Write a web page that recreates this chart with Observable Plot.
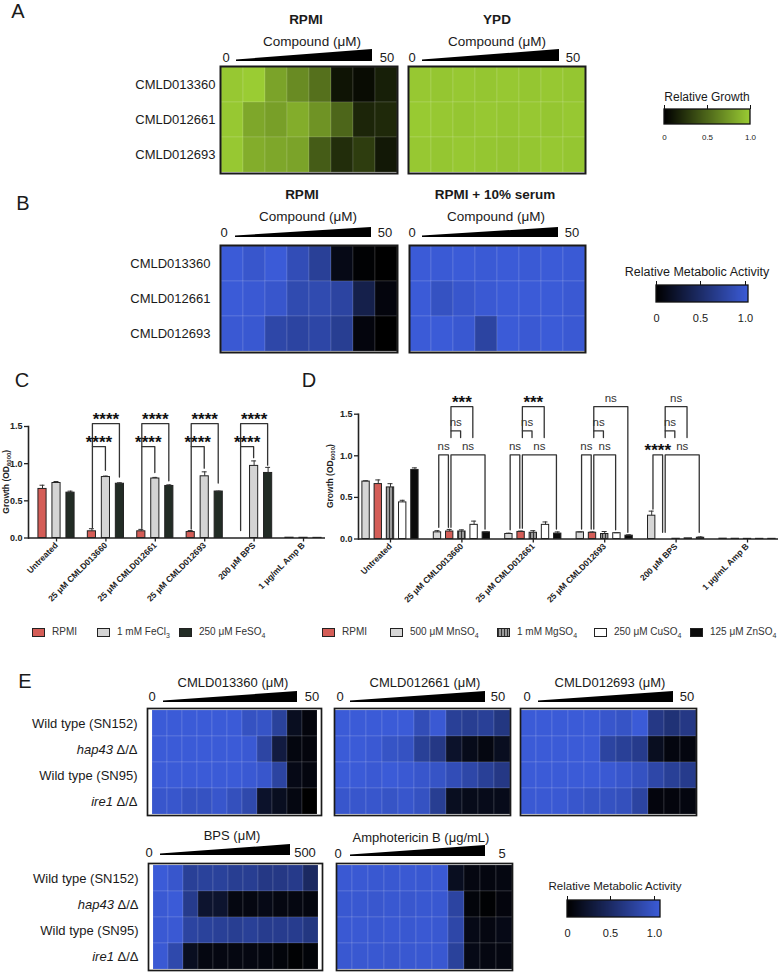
<!DOCTYPE html>
<html><head><meta charset="utf-8">
<script src="https://cdn.jsdelivr.net/npm/d3@7"></script>
<script src="https://cdn.jsdelivr.net/npm/@observablehq/plot@0.6"></script>
<style>
html,body{margin:0;padding:0;background:#fff;}
#fig{position:relative;width:780px;height:975px;overflow:hidden;font-family:"Liberation Sans",Arial,Helvetica,sans-serif;color:#1a1a1a;}
#fig .t{position:absolute;transform:translate(-50%,-50%);white-space:nowrap;line-height:1;}
#fig .letter{font-size:20px;}
#fig .title{font-size:13.5px;font-weight:bold;}
#fig .sub{font-size:13.5px;}
#fig .num{font-size:13px;}
#fig .etitle{font-size:13px;}
#fig .ltitle{font-size:12px;}
#fig .wedge{position:absolute;background:#000;clip-path:polygon(0 calc(100% - 1.5px),100% 0,100% 100%,0 100%);}
#fig .lg{position:absolute;display:flex;align-items:center;gap:7px;font-size:10px;color:#333;white-space:nowrap;transform:translateY(-50%);line-height:1;}
#fig .sw{width:11px;height:7px;border:1.5px solid #222;}
#fig sub{font-size:7px;vertical-align:-3px;line-height:0;}
#fig svg{display:block;overflow:visible;}
</style></head>
<body><div id="fig"></div>
<script>
// ---------------- DATA ----------------
const compoundsAB = ["CMLD013360", "CMLD012661", "CMLD012693"];
const growthRPMI = [
  [0.98, 1.00, 0.80, 0.68, 0.55, 0.10, 0.06, 0.15],
  [0.98, 0.82, 0.78, 0.85, 0.72, 0.50, 0.18, 0.20],
  [0.98, 0.85, 0.82, 0.80, 0.45, 0.22, 0.30, 0.12]
];
const growthYPD = [
  [0.98, 0.97, 0.98, 0.97, 0.98, 0.97, 0.98, 0.97],
  [0.99, 0.98, 0.97, 0.98, 0.97, 0.98, 0.97, 0.98],
  [0.98, 0.97, 0.98, 0.97, 0.96, 0.97, 0.98, 0.97]
];
const metabRPMI = [
  [1.00, 0.95, 1.00, 0.85, 0.70, 0.10, 0.02, 0.00],
  [1.00, 0.98, 0.95, 0.82, 0.82, 0.75, 0.35, 0.06],
  [0.98, 0.97, 0.78, 0.75, 0.77, 0.68, 0.06, 0.00]
];
const metabSerum = [
  [1.00, 0.99, 1.00, 0.99, 1.00, 0.99, 1.00, 0.99],
  [1.00, 0.90, 0.95, 0.98, 1.00, 1.00, 1.00, 0.98],
  [1.00, 1.00, 0.97, 0.75, 1.00, 0.98, 1.00, 0.98]
];
const strainsE = ["Wild type (SN152)", "hap43 Δ/Δ", "Wild type (SN95)", "ire1 Δ/Δ"];
const metabE013360 = [
  [1.00, 1.00, 1.00, 1.00, 1.00, 1.00, 0.90, 0.92, 0.72, 0.15, 0.06],
  [1.00, 1.00, 1.00, 1.00, 1.00, 1.00, 0.98, 0.76, 0.30, 0.07, 0.06],
  [1.00, 1.00, 1.00, 1.00, 1.00, 1.00, 0.98, 0.95, 0.75, 0.10, 0.07],
  [0.95, 0.95, 0.90, 0.90, 0.95, 0.88, 0.80, 0.20, 0.15, 0.08, 0.00]
];
const metabE012661 = [
  [1.00, 1.00, 1.00, 1.00, 1.00, 0.85, 0.98, 0.70, 0.68, 0.70, 0.60],
  [1.00, 1.00, 0.98, 0.92, 0.90, 0.70, 0.62, 0.20, 0.12, 0.08, 0.15],
  [1.00, 1.00, 0.98, 1.00, 0.98, 0.95, 0.92, 0.85, 0.78, 0.70, 0.62],
  [0.95, 0.95, 0.95, 0.92, 0.95, 0.90, 0.68, 0.15, 0.12, 0.12, 0.12]
];
const metabE012693 = [
  [1.00, 1.00, 1.00, 1.00, 1.00, 0.95, 0.92, 1.00, 0.62, 0.55, 0.62],
  [1.00, 1.00, 1.00, 1.00, 1.00, 0.75, 0.70, 0.65, 0.15, 0.07, 0.07],
  [1.00, 1.00, 1.00, 1.00, 1.00, 0.98, 0.95, 0.90, 0.78, 0.70, 0.65],
  [0.98, 0.98, 0.98, 0.95, 0.92, 0.90, 0.88, 0.75, 0.06, 0.06, 0.07]
];
const metabEBPS = [
  [1.00, 0.95, 0.70, 0.72, 0.72, 0.68, 0.68, 0.62, 0.62, 0.64, 0.45],
  [0.98, 1.00, 0.65, 0.22, 0.22, 0.08, 0.08, 0.10, 0.08, 0.08, 0.07],
  [0.98, 0.98, 0.75, 0.72, 0.70, 0.68, 0.70, 0.66, 0.66, 0.66, 0.60],
  [0.98, 0.80, 0.15, 0.08, 0.08, 0.08, 0.08, 0.07, 0.05, 0.02, 0.04]
];
const metabEAmpB = [
  [0.98, 0.98, 0.97, 0.97, 0.98, 0.97, 0.98, 0.15, 0.08, 0.07, 0.08],
  [0.97, 0.97, 0.96, 0.97, 0.96, 0.97, 0.97, 0.75, 0.05, 0.02, 0.06],
  [0.98, 0.98, 0.97, 0.98, 0.97, 0.98, 0.97, 0.78, 0.10, 0.08, 0.10],
  [0.97, 0.97, 0.97, 0.96, 0.97, 0.97, 0.97, 0.72, 0.10, 0.08, 0.08]
];
const colorTicks = [0, 0.5, 1];

const treatments = ["Untreated", "25 μM CMLD013660", "25 μM CMLD012661", "25 μM CMLD012693", "200 μM BPS", "1 μg/mL Amp B"];
const ironSeries = ["RPMI", "1 mM FeCl3", "250 μM FeSO4"];
const ironMeans = [
  [0.66, 0.09, 0.09, 0.08, 0.00, 0.004],
  [0.74, 0.82, 0.80, 0.83, 0.97, 0.003],
  [0.61, 0.73, 0.70, 0.625, 0.875, 0.002]
];
const ironErrors = [
  [0.05, 0.035, 0.026, 0.02, 0, 0],
  [0.02, 0.013, 0.015, 0.06, 0.067, 0],
  [0.02, 0.013, 0.015, 0.005, 0.075, 0]
];
// [treatment, fromSeries, toSeries, bracket top, left leg end, right leg end, label]
const ironBrackets = [
  [1, 0, 1, 1.23, 0.14, 0.91, "****"], [1, 0, 2, 1.54, 1.23, 0.82, "****"],
  [2, 0, 1, 1.23, 0.13, 0.88, "****"], [2, 0, 2, 1.54, 1.23, 0.77, "****"],
  [3, 0, 1, 1.23, 0.12, 0.94, "****"], [3, 0, 2, 1.54, 1.23, 0.74, "****"],
  [4, 0, 1, 1.23, 0.10, 1.08, "****"], [4, 0, 2, 1.54, 1.23, 0.98, "****"]
];
const metalSeries = ["500 μM MnSO4", "RPMI", "1 mM MgSO4", "250 μM CuSO4", "125 μM ZnSO4"];
const metalLegendOrder = ["RPMI", "500 μM MnSO4", "1 mM MgSO4", "250 μM CuSO4", "125 μM ZnSO4"];
const metalMeans = [
  [0.69, 0.08, 0.06, 0.08, 0.28, 0.004],
  [0.66, 0.09, 0.085, 0.075, 0.00, 0.003],
  [0.62, 0.09, 0.075, 0.06, 0.003, 0.002],
  [0.44, 0.17, 0.17, 0.07, 0.008, 0.002],
  [0.83, 0.08, 0.065, 0.04, 0.015, 0.002]
];
const metalErrors = [
  [0.01, 0.02, 0.01, 0.005, 0.055, 0],
  [0.05, 0.025, 0.01, 0.01, 0, 0],
  [0.045, 0.02, 0.025, 0.03, 0, 0],
  [0.025, 0.045, 0.035, 0.005, 0, 0],
  [0.025, 0.005, 0.02, 0.01, 0.01, 0]
];
const metalBrackets = [
  [1, 0, 1, 1.01, 0.14, 0.14, "ns"], [1, 1, 4, 1.01, 0.14, 0.12, "ns"], [1, 1, 2, 1.30, 1.22, 1.22, "ns"], [1, 1, 3, 1.59, 1.30, 1.22, "***"],
  [2, 0, 1, 1.01, 0.11, 0.13, "ns"], [2, 1, 4, 1.01, 0.13, 0.12, "ns"], [2, 1, 2, 1.30, 1.22, 1.22, "ns"], [2, 1, 3, 1.59, 1.30, 1.22, "***"],
  [3, 0, 1, 1.01, 0.12, 0.12, "ns"], [3, 1, 3, 1.01, 0.12, 0.11, "ns"], [3, 1, 2, 1.30, 1.22, 1.22, "ns"], [3, 1, 4, 1.59, 1.30, 0.08, "ns"],
  [4, 0, 1, 1.01, 0.36, 0.08, "****"], [4, 1, 4, 1.01, 0.08, 0.08, "ns"], [4, 1, 2, 1.30, 1.22, 1.22, "ns"], [4, 1, 3, 1.59, 1.30, 1.22, "ns"]
];

// ---------------- STYLES ----------------
const FONT = '"Liberation Sans", Arial, Helvetica, sans-serif';
const GREEN = ["#000000", "#9acc33"];
const BLUE = ["#000000", "#3b5bd7"];
const seriesFill = {
  "RPMI": "#d45d57", "1 mM FeCl3": "#d4d4d4", "250 μM FeSO4": "#222c25",
  "500 μM MnSO4": "#d6d6d6", "1 mM MgSO4": "url(#mgstripe)", "250 μM CuSO4": "#ffffff", "125 μM ZnSO4": "#0b0b0b"
};
const swatchCSS = {"1 mM MgSO4": "repeating-linear-gradient(90deg,#333 0 1px,#9a9a9a 1px 3px)"};

// ---------------- HELPERS ----------------
const fig = d3.select("#fig");
function place(node, left, top, w) {
  const div = fig.append("div").style("position", "absolute").style("left", left + "px").style("top", top + "px");
  if (w) div.style("width", w + "px");
  div.node().appendChild(node);
  return div;
}
function text(str, cx, cy, cls) {
  fig.append("div").attr("class", "t " + cls).style("left", cx + "px").style("top", cy + "px").text(str);
}
function wedge(x0, x1, y0, y1) {
  fig.append("div").attr("class", "wedge").style("left", x0 + "px").style("top", y0 + "px")
    .style("width", (x1 - x0) + "px").style("height", (y1 - y0) + "px");
}
const chem = s => s.replace(/(\D)(\d)$/, "$1<sub>$2</sub>");

function heatmap(values, rows, range, o) {
  const m = 2, ml = o.labels ? 150 : m;
  const cells = values.flatMap((r, i) => r.map((v, j) => ({row: rows[i], col: j, v})));
  const svg = Plot.plot({
    width: o.w + ml + m, height: o.h + 2 * m,
    marginLeft: ml, marginRight: m, marginTop: m, marginBottom: m,
    x: {type: "band", domain: d3.range(values[0].length), padding: 0, axis: null},
    y: {type: "band", domain: rows, padding: 0, axis: null, label: null},
    color: {type: "linear", domain: [0, 1], range, interpolate: "rgb", clamp: true},
    style: {fontFamily: FONT, color: "#1a1a1a", background: "transparent", overflow: "visible"},
    marks: [
      Plot.cell(cells, {x: "col", y: "row", fill: "v", stroke: "#ffffff", strokeOpacity: 0.16, strokeWidth: 0.8}),
      Plot.frame({stroke: "#1a1a1a", strokeWidth: o.frame || 2}),
      o.labels ? Plot.axisY({tickSize: 0, tickPadding: o.pad, fontSize: 13, label: null}) : null
    ]
  });
  d3.select(svg).selectAll("text").each(function() {
    const mm = this.textContent.match(/^(hap43|ire1)( Δ\/Δ)$/);
    if (mm) {
      const t = d3.select(this); t.text("");
      t.append("tspan").attr("font-style", "italic").text(mm[1]);
      t.append("tspan").text(mm[2]);
    }
  });
  place(svg, o.left - ml, o.top - m, o.w + ml + m);
}

function ramp(range, dmax, x0, x1, y0, y1, fs, tickSize) {
  const ml = 12, mr = 12, mt = 6, mb = 26;
  const rh = y1 - y0;
  const svg = Plot.legend({
    color: {type: "linear", domain: [0, dmax], range, interpolate: "rgb"},
    label: null, width: x1 - x0 + ml + mr, height: rh + mt + mb,
    marginLeft: ml, marginRight: mr, marginTop: mt, marginBottom: mb,
    ticks: colorTicks, tickFormat: d => d === 0 ? "0" : d.toFixed(1), tickSize
  });
  svg.style.background = "transparent";
  svg.style.fontSize = fs + "px";
  svg.style.fontFamily = FONT;
  svg.style.color = "#1a1a1a";
  const img = svg.querySelector("image");
  if (img) {
    d3.select(svg).append("rect")
      .attr("x", img.getAttribute("x")).attr("y", img.getAttribute("y"))
      .attr("width", img.getAttribute("width")).attr("height", img.getAttribute("height"))
      .attr("fill", "none").attr("stroke", "#111").attr("stroke-width", 1.3);
  }
  d3.select(svg).selectAll(".tick line").attr("y1", -rh - 4).attr("y2", -rh).attr("stroke", "#111");
  place(svg, x0 - ml, y0 - mt, x1 - x0 + ml + mr);
}

function barChart(c) {
  const n = c.series.length;
  const xPos = (g, s) => g + (s - (n - 1) / 2) * c.step;
  const bars = c.groups.flatMap((name, g) => c.series.map((sn, s) => ({g, s, x: xPos(g, s), v: c.means[s][g], e: c.errors[s][g]})));
  const errs = bars.filter(d => d.e > 0);
  const segs = c.brackets.flatMap((b, k) => {
    const xl = xPos(b[0], b[1]) + c.inset, xr = xPos(b[0], b[2]) - c.inset;
    return [{k, x: xl, y: b[4]}, {k, x: xl, y: b[3]}, {k, x: xr, y: b[3]}, {k, x: xr, y: b[5]}];
  });
  const mid = b => (xPos(b[0], b[1]) + xPos(b[0], b[2])) / 2;
  const stars = c.brackets.filter(b => b[6] !== "ns");
  const ns = c.brackets.filter(b => b[6] === "ns");
  const svg = Plot.plot({
    width: c.width, height: c.height,
    marginLeft: c.mLeft, marginRight: c.mRight, marginTop: c.mTop, marginBottom: c.mBottom,
    x: {domain: c.xDomain}, y: {domain: [0, 1.5]}, color: {type: "identity"},
    style: {fontFamily: FONT, color: "#222", background: "transparent", overflow: "visible"},
    marks: [
      Plot.rectY(bars, {x1: d => d.x - c.bw / 2, x2: d => d.x + c.bw / 2, y1: 0, y2: "v", fill: d => seriesFill[c.series[d.s]], stroke: "#222", strokeWidth: 1}),
      Plot.ruleX(errs, {x: "x", y1: "v", y2: d => d.v + d.e, stroke: "#333", strokeWidth: 1}),
      Plot.ruleY(errs, {y: d => d.v + d.e, x1: d => d.x - c.cap, x2: d => d.x + c.cap, stroke: "#333", strokeWidth: 1}),
      Plot.line(segs, {x: "x", y: "y", z: "k", stroke: "#333", strokeWidth: 1.3}),
      Plot.text(stars, {x: mid, y: b => b[3], text: b => b[6], lineAnchor: "bottom", dy: 1, fontSize: 17, fontWeight: "bold", fill: "#111"}),
      Plot.text(ns, {x: mid, y: b => b[3], text: b => b[6], lineAnchor: "bottom", dy: -5, fontSize: 11.5, fill: "#333"}),
      Plot.ruleY([0], {stroke: "#222", strokeWidth: 1.6}),
      Plot.frame({anchor: "left", stroke: "#222", strokeWidth: 1.6}),
      Plot.axisY({ticks: [0, 0.5, 1, 1.5], tickFormat: d3.format(".1f"), tickSize: 4, tickPadding: 2, fontSize: 9, fontWeight: "bold", label: null, strokeWidth: 1.3}),
      Plot.axisX({ticks: d3.range(c.groups.length), tickFormat: i => c.groups[i], tickRotate: -45, tickSize: 4, tickPadding: 2, fontSize: 8.5, fontWeight: "bold", label: null, strokeWidth: 1.3})
    ]
  });
  const sy = svg.scale("y");
  const t = d3.select(svg).append("text")
    .attr("transform", `translate(${c.yLabelX},${sy.apply(0.75)}) rotate(-90)`)
    .attr("text-anchor", "middle").attr("font-weight", "bold").attr("font-size", 8.5).attr("fill", "#222");
  t.append("tspan").text("Growth (OD");
  t.append("tspan").attr("font-size", 6).attr("dy", 2).text("6000");
  t.append("tspan").attr("dy", -2).text(")");
  if (c.pattern) {
    const p = d3.select(svg).insert("defs", ":first-child").append("pattern")
      .attr("id", "mgstripe").attr("width", 3).attr("height", 4).attr("patternUnits", "userSpaceOnUse");
    p.append("rect").attr("width", 3).attr("height", 4).attr("fill", "#9a9a9a");
    p.append("rect").attr("width", 1).attr("height", 4).attr("fill", "#333");
  }
  place(svg, c.left, c.top, c.width);
}

function barLegend(names, lefts, cy) {
  names.forEach((nm, i) => {
    const d = fig.append("div").attr("class", "lg").style("left", lefts[i] + "px").style("top", cy + "px");
    d.append("div").attr("class", "sw").style("background", swatchCSS[nm] || seriesFill[nm]);
    d.append("span").html(chem(nm));
  });
}

// ---------------- PANEL A ----------------
text("A", 18, 10.5, "letter");
text("RPMI", 306, 20, "title"); text("YPD", 497, 20, "title");
text("Compound (μM)", 312, 42, "sub"); text("Compound (μM)", 497, 42, "sub");
text("0", 226, 57, "num"); text("50", 387, 57, "num"); text("0", 412, 57, "num"); text("50", 573, 57, "num");
wedge(236, 372, 49, 61); wedge(422, 559, 49, 61);
heatmap(growthRPMI, compoundsAB, GREEN, {left: 220, top: 66, w: 177, h: 107, labels: true, pad: 5});
heatmap(growthYPD, compoundsAB, GREEN, {left: 408, top: 66, w: 177, h: 107});
text("Relative Growth", 707, 97, "ltitle");
ramp(GREEN, 1, 664, 750, 109, 124, 8, 7);

// ---------------- PANEL B ----------------
text("B", 23, 202.5, "letter");
text("RPMI", 302, 195, "title"); text("RPMI + 10% serum", 495, 195, "title");
text("Compound (μM)", 308, 217, "sub"); text("Compound (μM)", 496, 217, "sub");
text("0", 224, 232, "num"); text("50", 385, 232, "num"); text("0", 412, 232, "num"); text("50", 572, 232, "num");
wedge(235, 371, 227, 237); wedge(422, 558, 227, 237);
heatmap(metabRPMI, compoundsAB, BLUE, {left: 220, top: 245, w: 177, h: 107, labels: true, pad: 10});
heatmap(metabSerum, compoundsAB, BLUE, {left: 409, top: 245, w: 176, h: 107});
fig.append("div").attr("class", "t ltitle").style("left", "697px").style("top", "272px").style("font-size", "12.5px").text("Relative Metabolic Activity");
ramp(BLUE, 1.035, 656, 748, 285, 302, 11, 9);

// ---------------- PANEL C ----------------
text("C", 22, 379.5, "letter");
barChart({groups: treatments, series: ironSeries, means: ironMeans, errors: ironErrors, brackets: ironBrackets,
  left: 0, top: 380, width: 330, height: 245, mLeft: 28, mRight: 5, mTop: 46, mBottom: 87.5,
  xDomain: [-0.567, 5.445], step: 0.2834, bw: 0.165, cap: 0.05, inset: 0.01, yLabelX: 9});
barLegend(ironSeries, [32, 97, 179], 632);

// ---------------- PANEL D ----------------
text("D", 309, 379.5, "letter");
barChart({groups: treatments, series: metalSeries, means: metalMeans, errors: metalErrors, brackets: metalBrackets,
  left: 320, top: 380, width: 460, height: 245, mLeft: 38, mRight: 2, mTop: 33.7, mBottom: 86.5,
  xDomain: [-0.448, 5.434], step: 0.171, bw: 0.103, cap: 0.035, inset: 0.018, yLabelX: 13, pattern: true});
barLegend(metalLegendOrder, [322, 390, 497, 594, 690], 632);

// ---------------- PANEL E ----------------
text("E", 25, 680.5, "letter");
text("CMLD013360 (μM)", 233, 682, "etitle"); text("CMLD012661 (μM)", 425, 682, "etitle"); text("CMLD012693 (μM)", 610, 682, "etitle");
text("0", 152, 696, "num"); text("50", 312, 696, "num"); wedge(163, 297, 691, 702);
text("0", 340, 696, "num"); text("50", 498, 696, "num"); wedge(350, 485, 691, 702);
text("0", 527, 696, "num"); text("50", 687, 696, "num"); wedge(538, 673, 691, 702);
heatmap(metabE013360, strainsE, BLUE, {left: 147, top: 708, w: 174, h: 107, labels: true, pad: 10, frame: 1.7});
heatmap(metabE012661, strainsE, BLUE, {left: 334, top: 708, w: 176, h: 107, frame: 1.7});
heatmap(metabE012693, strainsE, BLUE, {left: 520, top: 708, w: 176, h: 107, frame: 1.7});
text("BPS (μM)", 232, 835, "etitle"); text("Amphotericin B (μg/mL)", 421, 837, "etitle");
text("0", 149, 852, "num"); text("500", 305, 852, "num"); wedge(160, 290, 844, 855);
text("0", 338, 853, "num"); text("5", 502, 853, "num"); wedge(350, 485, 845, 856);
heatmap(metabEBPS, strainsE, BLUE, {left: 148, top: 863, w: 174, h: 107, labels: true, pad: 10, frame: 1.7});
heatmap(metabEAmpB, strainsE, BLUE, {left: 336, top: 863, w: 176, h: 107, frame: 1.7});
fig.append("div").attr("class", "t ltitle").style("left", "615px").style("top", "887px").style("font-size", "11.5px").text("Relative Metabolic Activity");
ramp(BLUE, 1.07, 567, 660, 900, 917, 11, 9);
</script></body></html>
